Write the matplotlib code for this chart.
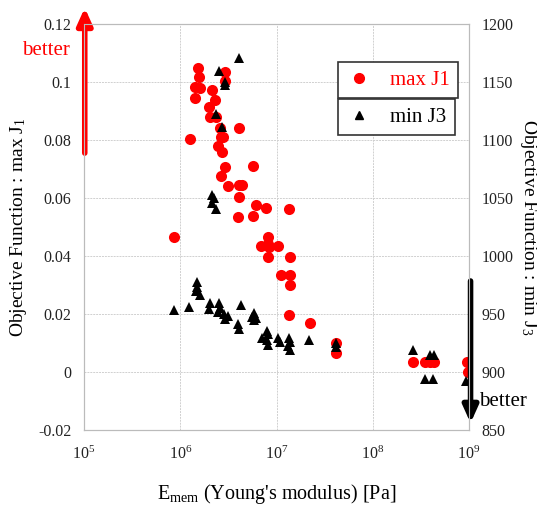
import matplotlib
matplotlib.use('Agg')
import matplotlib.pyplot as plt
from matplotlib.lines import Line2D

plt.rcParams['font.family'] = ['Liberation Serif', 'DejaVu Serif']
plt.rcParams['mathtext.fontset'] = 'custom'
plt.rcParams['mathtext.rm'] = 'Liberation Serif'
plt.rcParams['mathtext.it'] = 'Liberation Serif:italic'

# max J1 (left axis) ------------------------------------------------
j1_E = [8.7e5, 1.26e6, 1.52e6, 1.57e6, 1.44e6, 1.60e6, 1.43e6, 2.13e6, 2.30e6, 2.01e6,
        2.06e6, 2.35e6, 2.94e6, 2.92e6, 4.03e6, 2.59e6, 2.62e6, 2.80e6, 2.49e6, 2.71e6,
        2.92e6, 2.65e6, 5.74e6, 3.17e6, 4.11e6, 4.33e6, 4.08e6, 6.17e6, 7.87e6, 1.36e7,
        3.96e6, 5.68e6, 8.17e6, 6.86e6, 8.22e6, 8.42e6, 1.04e7, 8.22e6, 1.37e7, 1.11e7,
        1.37e7, 1.37e7, 1.34e7, 2.23e7, 4.18e7, 4.18e7, 2.62e8, 3.49e8, 3.94e8, 4.33e8,
        9.46e8, 9.84e8]
j1 = [0.0466, 0.0805, 0.1048, 0.1017, 0.0983, 0.0979, 0.0945, 0.0972, 0.0938, 0.0914,
      0.0879, 0.0878, 0.1034, 0.1002, 0.0840, 0.0840, 0.0809, 0.0809, 0.0779, 0.0759,
      0.0706, 0.0676, 0.0712, 0.0640, 0.0644, 0.0646, 0.0604, 0.0575, 0.0564, 0.0562,
      0.0533, 0.0538, 0.0467, 0.0433, 0.0443, 0.0432, 0.0434, 0.0398, 0.0398, 0.0334,
      0.0334, 0.0299, 0.0198, 0.0168, 0.0101, 0.0067, 0.0033, 0.0033, 0.0033, 0.0033,
      0.0033, 0.0000]

# min J3 (right axis) -----------------------------------------------
j3_E = [4.08e6, 2.55e6, 2.92e6, 2.95e6, 2.35e6, 2.70e6, 2.16e6, 2.22e6, 2.16e6, 2.34e6,
        8.71e5, 1.24e6, 1.51e6, 1.51e6, 1.46e6, 1.60e6, 2.04e6, 1.98e6, 2.53e6, 2.59e6,
        2.46e6, 2.85e6, 3.16e6, 2.92e6, 4.31e6, 4.01e6, 4.03e6, 5.77e6, 5.56e6, 6.08e6,
        5.77e6, 7.89e6, 8.22e6, 7.02e6, 7.89e6, 8.22e6, 1.04e7, 1.09e7, 1.36e7, 1.38e7,
        1.33e7, 1.38e7, 2.19e7, 4.18e7, 4.18e7, 2.64e8, 3.89e8, 4.28e8, 3.49e8, 4.26e8,
        9.31e8]
j3 = [1170.4, 1159.5, 1149.6, 1147.4, 1122.2, 1111.5, 1052.6, 1049.6, 1046.1, 1040.1,
      953.4, 956.3, 977.2, 973.5, 969.8, 966.4, 959.1, 954.1, 959.2, 955.3,
      952.0, 949.8, 948.3, 945.7, 957.5, 941.1, 936.7, 950.6, 947.4, 946.8,
      944.8, 935.3, 932.5, 929.1, 927.6, 923.3, 929.6, 926.1, 929.1, 926.1,
      922.7, 918.9, 927.6, 925.3, 921.8, 918.7, 914.7, 914.7, 894.0, 894.0,
      892.2]

x_ticks = [1e5, 1e6, 1e7, 1e8, 1e9]
x_ticklabels = ['$10^{5}$', '$10^{6}$', '$10^{7}$', '$10^{8}$', '$10^{9}$']
y1_ticks = [-0.02, 0, 0.02, 0.04, 0.06, 0.08, 0.1, 0.12]
y1_ticklabels = ['-0.02', '0', '0.02', '0.04', '0.06', '0.08', '0.1', '0.12']
y2_ticks = [850, 900, 950, 1000, 1050, 1100, 1150, 1200]

fig = plt.figure(figsize=(5.37, 5.05), dpi=100)
ax = fig.add_axes([0.1564, 0.1485, 0.717, 0.804])
ax2 = ax.twinx()

ax.plot(j1_E, j1, 'o', color='red', markersize=8, markeredgewidth=0)
ax2.plot(j3_E, j3, '^', color='black', markersize=7, markeredgewidth=0)

ax.set_xscale('log')
ax.set_xlim(1e5, 1e9)
ax.set_ylim(-0.02, 0.12)
ax2.set_ylim(850, 1200)
ax.set_xticks(x_ticks)
ax.set_xticklabels(x_ticklabels)
ax.minorticks_off()
ax.set_yticks(y1_ticks)
ax.set_yticklabels(y1_ticklabels)
ax2.set_yticks(y2_ticks)

ax.grid(True, color='#d0d0d0', linestyle=(0, (2, 1)), linewidth=0.7)
ax2.grid(False)
for a in (ax, ax2):
    for s in a.spines.values():
        s.set_color('#bbbbbb')
        s.set_linewidth(0.8)
    a.tick_params(length=0, labelsize=11.5, colors='#222222')
ax.tick_params(axis='y', pad=9)
ax2.tick_params(axis='y', pad=9)
ax.tick_params(axis='x', pad=11)

ax.set_xlabel("E$_{\\rm mem}$ (Young's modulus) [Pa]", fontsize=14.5, labelpad=14)
ax.set_ylabel('Objective Function : max J$_{1}$', fontsize=14, labelpad=7)
ax2.set_ylabel('Objective Function : min J$_{3}$', fontsize=14, rotation=270, labelpad=18)

# arrows "better"
ax.annotate('', xy=(0.002, 1.04), xytext=(0.002, 0.682), xycoords='axes fraction',
            arrowprops=dict(arrowstyle='-|>,head_width=0.45,head_length=1.0',
                            color='red', lw=4, shrinkA=0, shrinkB=0), annotation_clip=False)
ax.text(-0.10, 0.935, 'better', color='red', fontsize=15, ha='center', va='center',
        transform=ax.transAxes)
ax.annotate('', xy=(1.004, 0.017), xytext=(1.004, 0.367), xycoords='axes fraction',
            arrowprops=dict(arrowstyle='-|>,head_width=0.45,head_length=1.0',
                            color='black', lw=4, shrinkA=0, shrinkB=0), annotation_clip=False)
ax.text(1.088, 0.069, 'better', color='black', fontsize=15, ha='center', va='center',
        transform=ax.transAxes)

# legend as two stacked boxes
h1 = Line2D([], [], marker='o', color='red', linestyle='none', markersize=7)
h2 = Line2D([], [], marker='^', color='black', linestyle='none', markersize=6)
leg1 = ax2.legend([h1], ['max J1'], loc='upper left', bbox_to_anchor=(0.66, 0.906),
                  borderaxespad=0, fancybox=False, framealpha=1, edgecolor='#333333',
                  fontsize=15, handlelength=1.2, handletextpad=0.9, borderpad=0.4)
for t in leg1.get_texts():
    t.set_color('red')
ax2.add_artist(leg1)
leg2 = ax2.legend([h2], ['min J3'], loc='upper left', bbox_to_anchor=(0.66, 0.815),
                  borderaxespad=0, fancybox=False, framealpha=1, edgecolor='#333333',
                  fontsize=15, handlelength=1.2, handletextpad=0.9, borderpad=0.4)
for lg in (leg1, leg2):
    lg.get_frame().set_linewidth(1.2)

fig.savefig('out.png', dpi=100)
